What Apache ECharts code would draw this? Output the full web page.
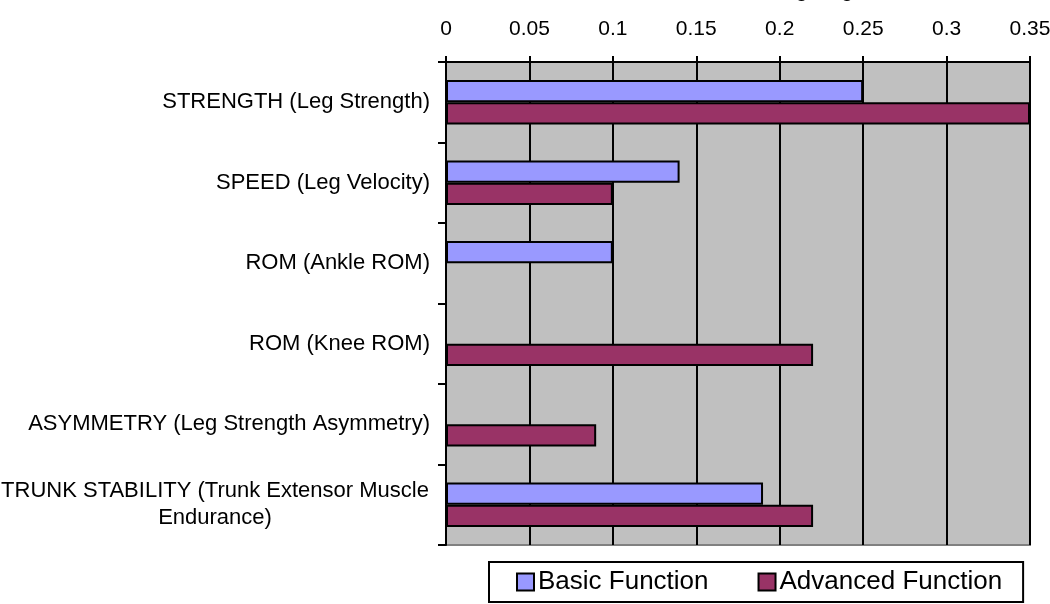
<!DOCTYPE html>
<html><head><meta charset="utf-8">
<script src="https://cdn.jsdelivr.net/npm/echarts@6/dist/echarts.min.js"></script>
<style>html,body{margin:0;padding:0;background:#fff}#c{width:1050px;height:604px}</style>
</head><body><div id="c"></div>
<script>
const categories = ["STRENGTH (Leg Strength)","SPEED (Leg Velocity)","ROM (Ankle ROM)","ROM (Knee ROM)","ASYMMETRY (Leg Strength Asymmetry)","TRUNK STABILITY (Trunk Extensor Muscle\nEndurance)"];
const basicFunction = [0.25, 0.14, 0.10, 0, 0, 0.19];
const advancedFunction = [0.35, 0.10, 0, 0.22, 0.09, 0.22];
const seriesNames = ["Basic Function", "Advanced Function"];
const FONT = "'Liberation Sans', Arial, sans-serif";
const chart = echarts.init(document.getElementById('c'), null, {renderer:'canvas'});
chart.setOption({
  animation:false,
  backgroundColor:'#fff',
  title:{text:'Weighting', left:760, top:-19, padding:0, textStyle:{fontFamily:FONT,fontSize:21,fontWeight:'normal',color:'#000'}},
  grid:{left:446, right:20, top:62, bottom:59, containLabel:false, outerBoundsMode:'none',
        show:true, backgroundColor:'#C0C0C0', borderColor:'#808080', borderWidth:2},
  legend:{
    data:seriesNames, bottom:2, left:489, padding:[7,21,7,27],
    backgroundColor:'#fff', borderColor:'#000', borderWidth:2,
    itemWidth:17, itemHeight:17, itemGap:49, icon:'rect',
    itemStyle:{borderColor:'#000',borderWidth:2},
    textStyle:{fontFamily:FONT,fontSize:26,color:'#000',padding:[0,0,0,-1]}
  },
  xAxis:{
    type:'value', position:'top', min:0, max:0.35, interval:0.05,
    axisLine:{show:true,lineStyle:{color:'#000',width:2}},
    axisTick:{show:true,length:6,lineStyle:{color:'#000',width:2}},
    splitLine:{show:true,lineStyle:{color:'#000',width:2}},
    axisLabel:{fontFamily:FONT,fontSize:21,color:'#000',margin:22,hideOverlap:false,
      formatter:v=>String(+v.toFixed(2))}
  },
  yAxis:{
    type:'category', data:categories, inverse:true,
    axisLine:{show:true,lineStyle:{color:'#000',width:2}},
    axisTick:{show:true,length:8,lineStyle:{color:'#000',width:2}},
    axisLabel:{fontFamily:FONT,fontSize:22,color:'#000',margin:16,align:'right',lineHeight:27,
      formatter:v=>v.indexOf('\n')>=0 ? '{c|'+v+'}' : v,
      rich:{c:{fontFamily:FONT,fontSize:22,color:'#000',width:430,align:'center',lineHeight:27}}
    }
  },
  series:[
    {name:seriesNames[0], type:'bar', data:basicFunction, barGap:'0%', barCategoryGap:'45%',
     itemStyle:{color:'#9999FF',borderColor:'#000',borderWidth:2}},
    {name:seriesNames[1], type:'bar', data:advancedFunction,
     itemStyle:{color:'#993366',borderColor:'#000',borderWidth:2}}
  ]
});
</script></body></html>
